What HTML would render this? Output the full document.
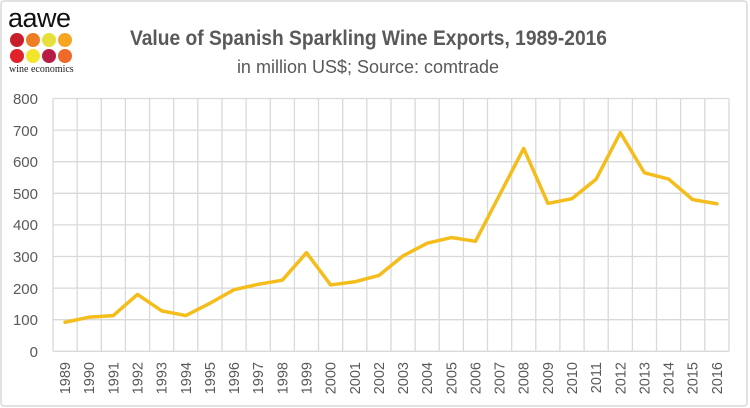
<!DOCTYPE html>
<html><head><meta charset="utf-8"><style>
html,body{margin:0;padding:0;background:#fff}
svg{display:block}
text{font-family:"Liberation Sans",sans-serif;fill:#595959}
</style></head><body>
<svg width="750" height="408" viewBox="0 0 750 408" xmlns="http://www.w3.org/2000/svg">
<rect x="1" y="1" width="746" height="405" rx="3" fill="#fff" stroke="#d9d9d9" stroke-width="1.5"/>
<!-- logo -->
<text x="8" y="27" style="font-size:27px;fill:#111;letter-spacing:-0.5px">aawe</text>
<g>
<circle cx="17" cy="40" r="7" fill="#c8202a"/><circle cx="33" cy="40" r="7" fill="#ef7d22"/><circle cx="49" cy="40" r="7" fill="#e8e03a"/><circle cx="65" cy="40" r="7" fill="#f6a623"/>
<circle cx="17" cy="56" r="7" fill="#e0232a"/><circle cx="33" cy="56" r="7" fill="#f2e52c"/><circle cx="49" cy="56" r="7" fill="#b71c47"/><circle cx="65" cy="56" r="7" fill="#ee6a2a"/>
</g>
<text x="9" y="72" style="font-family:'Liberation Serif',serif;font-size:10px;fill:#222">wine economics</text>
<!-- title -->
<text x="130" y="45" textLength="477" lengthAdjust="spacingAndGlyphs" style="font-size:21px;font-weight:bold">Value of Spanish Sparkling Wine Exports, 1989-2016</text>
<text x="368" y="73" text-anchor="middle" style="font-size:18px">in million US$; Source: comtrade</text>
<!-- grid -->
<g stroke="#d9d9d9" stroke-width="1.3">
<line x1="53" x2="729" y1="98.5" y2="98.5"/><line x1="53" x2="729" y1="130.1" y2="130.1"/><line x1="53" x2="729" y1="161.7" y2="161.7"/><line x1="53" x2="729" y1="193.3" y2="193.3"/><line x1="53" x2="729" y1="224.9" y2="224.9"/><line x1="53" x2="729" y1="256.5" y2="256.5"/><line x1="53" x2="729" y1="288.1" y2="288.1"/><line x1="53" x2="729" y1="319.7" y2="319.7"/><line x1="53" x2="729" y1="351.3" y2="351.3"/>
<line y1="98.5" y2="351.3" x1="53" x2="53"/><line y1="98.5" y2="351.3" x1="77.1" x2="77.1"/><line y1="98.5" y2="351.3" x1="101.3" x2="101.3"/><line y1="98.5" y2="351.3" x1="125.4" x2="125.4"/><line y1="98.5" y2="351.3" x1="149.6" x2="149.6"/><line y1="98.5" y2="351.3" x1="173.7" x2="173.7"/><line y1="98.5" y2="351.3" x1="197.8" x2="197.8"/><line y1="98.5" y2="351.3" x1="222" x2="222"/><line y1="98.5" y2="351.3" x1="246.1" x2="246.1"/><line y1="98.5" y2="351.3" x1="270.3" x2="270.3"/><line y1="98.5" y2="351.3" x1="294.4" x2="294.4"/><line y1="98.5" y2="351.3" x1="318.5" x2="318.5"/><line y1="98.5" y2="351.3" x1="342.7" x2="342.7"/><line y1="98.5" y2="351.3" x1="366.8" x2="366.8"/><line y1="98.5" y2="351.3" x1="391" x2="391"/><line y1="98.5" y2="351.3" x1="415.1" x2="415.1"/><line y1="98.5" y2="351.3" x1="439.2" x2="439.2"/><line y1="98.5" y2="351.3" x1="463.4" x2="463.4"/><line y1="98.5" y2="351.3" x1="487.5" x2="487.5"/><line y1="98.5" y2="351.3" x1="511.7" x2="511.7"/><line y1="98.5" y2="351.3" x1="535.8" x2="535.8"/><line y1="98.5" y2="351.3" x1="559.9" x2="559.9"/><line y1="98.5" y2="351.3" x1="584.1" x2="584.1"/><line y1="98.5" y2="351.3" x1="608.2" x2="608.2"/><line y1="98.5" y2="351.3" x1="632.4" x2="632.4"/><line y1="98.5" y2="351.3" x1="656.5" x2="656.5"/><line y1="98.5" y2="351.3" x1="680.6" x2="680.6"/><line y1="98.5" y2="351.3" x1="704.8" x2="704.8"/><line y1="98.5" y2="351.3" x1="729" x2="729"/>
</g>
<!-- y labels -->
<g style="font-size:15px" text-anchor="end">
<text x="38" y="104">800</text><text x="38" y="136">700</text><text x="38" y="167">600</text><text x="38" y="199">500</text><text x="38" y="230">400</text><text x="38" y="262">300</text><text x="38" y="294">200</text><text x="38" y="325">100</text><text x="38" y="357">0</text>
</g>
<!-- line -->
<polyline fill="none" stroke="#f4bd1c" stroke-width="3.5" stroke-linejoin="round" stroke-linecap="round" vector-effect="non-scaling-stroke"
transform="translate(0,351.3) scale(1,-0.316)"
points="65.1,92 89.2,108 113.3,113 137.5,180 161.6,128 185.8,113 209.9,152 234.1,195 258.2,212 282.3,225 306.5,312 330.6,210 354.8,220 378.9,240 403,302 427.2,342 451.3,360 475.5,348 499.6,495 523.7,642 547.9,468 572,483 596.2,545 620.3,692 644.4,565 668.6,545 692.7,480 716.9,467"/>
<!-- x labels -->
<g style="font-size:14.5px" text-anchor="end">
<text transform="translate(70.1,362) rotate(-90)">1989</text><text transform="translate(94.2,362) rotate(-90)">1990</text><text transform="translate(118.3,362) rotate(-90)">1991</text><text transform="translate(142.5,362) rotate(-90)">1992</text><text transform="translate(166.6,362) rotate(-90)">1993</text><text transform="translate(190.8,362) rotate(-90)">1994</text><text transform="translate(214.9,362) rotate(-90)">1995</text><text transform="translate(239.1,362) rotate(-90)">1996</text><text transform="translate(263.2,362) rotate(-90)">1997</text><text transform="translate(287.3,362) rotate(-90)">1998</text><text transform="translate(311.5,362) rotate(-90)">1999</text><text transform="translate(335.6,362) rotate(-90)">2000</text><text transform="translate(359.8,362) rotate(-90)">2001</text><text transform="translate(383.9,362) rotate(-90)">2002</text><text transform="translate(408,362) rotate(-90)">2003</text><text transform="translate(432.2,362) rotate(-90)">2004</text><text transform="translate(456.3,362) rotate(-90)">2005</text><text transform="translate(480.5,362) rotate(-90)">2006</text><text transform="translate(504.6,362) rotate(-90)">2007</text><text transform="translate(528.7,362) rotate(-90)">2008</text><text transform="translate(552.9,362) rotate(-90)">2009</text><text transform="translate(577,362) rotate(-90)">2010</text><text transform="translate(601.2,362) rotate(-90)">2011</text><text transform="translate(625.3,362) rotate(-90)">2012</text><text transform="translate(649.4,362) rotate(-90)">2013</text><text transform="translate(673.6,362) rotate(-90)">2014</text><text transform="translate(697.7,362) rotate(-90)">2015</text><text transform="translate(721.9,362) rotate(-90)">2016</text>
</g>
</svg>
</body></html>
